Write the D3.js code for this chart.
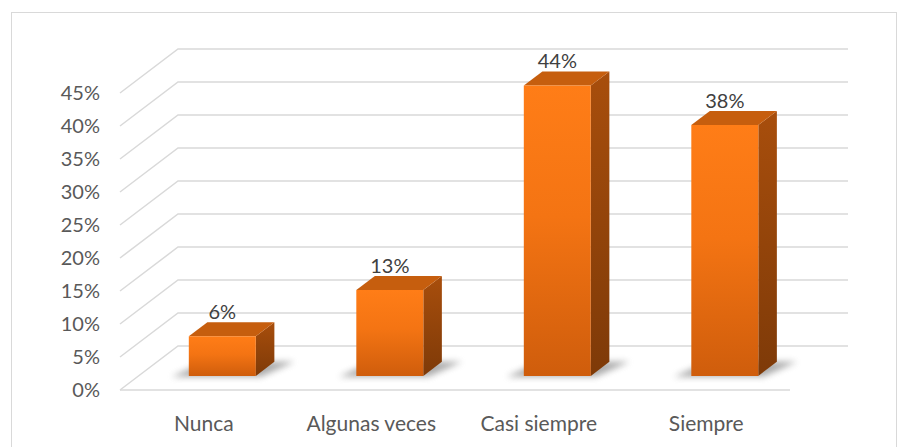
<!DOCTYPE html>
<html lang="es">
<head>
    <meta charset="UTF-8">
    <title>Chart</title>
    <script src="https://cdnjs.cloudflare.com/ajax/libs/d3/7.8.5/d3.min.js"></script>
    <style>
        body { margin: 0; background: #fff; }
        text { font-family: Lato, "Open Sans", sans-serif; }
    </style>
</head>
<body>
<script>
    var categories = ["Nunca", "Algunas veces", "Casi siempre", "Siempre"];
    var values = [6, 13, 44, 38];
    var yTicks = [0, 5, 10, 15, 20, 25, 30, 35, 40, 45];

    var width = 900,
        height = 447,
        floorY = 390,          // front edge of the floor
        depthX = 58, depthY = 44, // oblique depth of the plot
        barT0 = 0.32, barT1 = 0.64; // bar position along depth

    var svg = d3.select("body").append("svg")
            .attr("width", width)
            .attr("height", height);

    var defs = svg.append("defs");
    var gFront = defs.append("linearGradient").attr("id", "gFront")
        .attr("x1", 0).attr("y1", 0).attr("x2", 0).attr("y2", 1);
    gFront.append("stop").attr("offset", "0%").attr("stop-color", "#ff7d17");
    gFront.append("stop").attr("offset", "45%").attr("stop-color", "#f47413");
    gFront.append("stop").attr("offset", "100%").attr("stop-color", "#cf5d0c");
    var gSide = defs.append("linearGradient").attr("id", "gSide")
        .attr("x1", 0).attr("y1", 0).attr("x2", 0).attr("y2", 1);
    gSide.append("stop").attr("offset", "0%").attr("stop-color", "#a84e0c");
    gSide.append("stop").attr("offset", "100%").attr("stop-color", "#7e3a08");
    defs.append("filter").attr("id", "blur")
        .attr("x", "-50%").attr("y", "-50%").attr("width", "200%").attr("height", "200%")
        .append("feGaussianBlur").attr("stdDeviation", 3);

    // chart border
    svg.append("rect")
        .attr("x", 11.5).attr("y", 12.5)
        .attr("width", 885).attr("height", 445)
        .attr("fill", "none").attr("stroke", "#d9d9d9");

    var x = d3.scaleBand().domain(categories).range([120, 790]).paddingInner(0).paddingOuter(0);
    var y = d3.scaleLinear().domain([0, 45]).range([0, 297]);

    // project a point: front x, value v, depth t (0 front, 1 back)
    function P(px, v, t) {
        return [px + t * depthX, floorY - y(v) - t * depthY];
    }

    // gridlines (left wall + back wall)
    var line = d3.line();
    svg.selectAll("path.grid").data(yTicks).enter().append("path")
        .attr("class", "grid")
        .attr("d", function (d) {
            return line([P(120, d, 0), P(120, d, 1), P(790, d, 1)]);
        })
        .attr("fill", "none").attr("stroke", "#d9d9d9").attr("stroke-width", 1.5);
    // floor front edge
    svg.append("path")
        .attr("d", line([P(120, 0, 0), P(790, 0, 0)]))
        .attr("fill", "none").attr("stroke", "#d9d9d9").attr("stroke-width", 1.5);

    // y tick labels
    svg.selectAll("text.ytick").data(yTicks).enter().append("text")
        .attr("class", "ytick")
        .attr("x", 100)
        .attr("y", function (d) { return floorY - y(d) + 7; })
        .attr("text-anchor", "end")
        .attr("font-size", 20)
        .attr("fill", "#595959")
        .text(function (d) { return d + "%"; });

    // category labels
    svg.selectAll("text.xcat").data(categories).enter().append("text")
        .attr("class", "xcat")
        .attr("x", function (d) { return x(d) + x.bandwidth() / 2; })
        .attr("y", 431)
        .attr("text-anchor", "middle")
        .attr("font-size", 21)
        .attr("fill", "#595959")
        .text(function (d) { return d; });

    var barW = x.bandwidth() * 0.4;
    var data = categories.map(function (c, i) { return {cat: c, v: values[i]}; });

    var bars = svg.selectAll("g.bar").data(data).enter().append("g").attr("class", "bar");

    function left(d) { return x(d.cat) + (x.bandwidth() - barW) / 2; }

    // floor shadow
    bars.append("path")
        .attr("d", function (d) {
            var l = left(d) - 16, r = left(d) + barW + 6;
            return line([P(l, 0, barT0 - 0.02), P(r, 0, barT0 - 0.02),
                         P(r + 14, 0, barT1), P(l + 14, 0, barT1)]) + "Z";
        })
        .attr("fill", "#7f7f7f").attr("opacity", 0.65)
        .attr("filter", "url(#blur)");

    // side face
    bars.append("path")
        .attr("d", function (d) {
            var r = left(d) + barW;
            return line([P(r, 0, barT0), P(r, 0, barT1), P(r, d.v, barT1), P(r, d.v, barT0)]) + "Z";
        })
        .attr("fill", "url(#gSide)");

    // top face
    bars.append("path")
        .attr("d", function (d) {
            var l = left(d), r = l + barW;
            return line([P(l, d.v, barT0), P(r, d.v, barT0), P(r, d.v, barT1), P(l, d.v, barT1)]) + "Z";
        })
        .attr("fill", "#c65e0e");

    // front face
    bars.append("path")
        .attr("d", function (d) {
            var l = left(d), r = l + barW;
            return line([P(l, 0, barT0), P(r, 0, barT0), P(r, d.v, barT0), P(l, d.v, barT0)]) + "Z";
        })
        .attr("fill", "url(#gFront)");

    // value labels
    bars.append("text")
        .attr("x", function (d) { return P(left(d) + barW / 2, d.v, barT0)[0]; })
        .attr("y", function (d) { return P(left(d), d.v, barT1)[1] - 3; })
        .attr("text-anchor", "middle")
        .attr("font-size", 20)
        .attr("fill", "#404040")
        .text(function (d) { return d.v + "%"; });
</script>
</body>
</html>
